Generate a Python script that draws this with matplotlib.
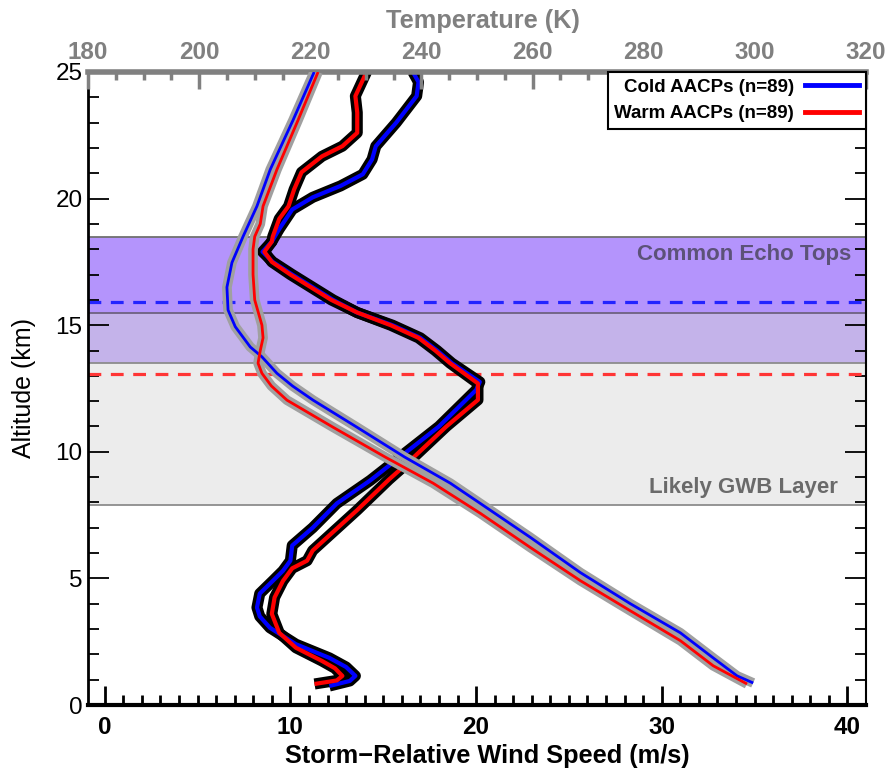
import matplotlib
matplotlib.use("Agg")
import matplotlib.pyplot as plt
from matplotlib.lines import Line2D
import numpy as np

plt.rcParams['font.family'] = ['Liberation Sans', 'DejaVu Sans']

# ---------------- data ----------------
# Storm-relative wind speed (m/s) vs altitude (km)
cold_wind_alt = [0.75, 0.95, 1.15, 1.5, 1.86, 2.4, 3.05, 3.5, 3.85, 4.4, 4.9, 5.3, 5.7, 6.3, 7.0, 7.96, 8.87,
                 9.79, 11.0, 12.44, 12.76, 13.5, 14.0, 14.5, 15.0, 15.5, 16.0, 16.5, 17.0,
                 17.5, 17.9, 18.3, 18.8, 19.57, 20.05, 20.5, 20.96, 21.55, 22.07, 23.0,
                 24.05, 24.6, 25.0]
cold_wind = [12.1, 13.2, 13.5, 13.0, 12.1, 10.3, 8.9, 8.35, 8.2, 8.35, 9.05, 9.6, 10.0, 10.1, 11.2, 12.5, 14.3,
             15.9, 18.0, 20.0, 20.2, 18.7, 17.9, 17.0, 15.5, 13.6, 12.3, 11.2, 10.1,
             9.05, 8.5, 9.0, 9.4, 10.1, 11.2, 12.7, 13.9, 14.4, 14.6, 15.7,
             16.8, 16.9, 16.6]

warm_wind_alt = [0.83, 0.97, 1.15, 1.45, 1.74, 2.26, 2.85, 3.6, 4.25, 4.9, 5.4, 5.7, 6.1, 7.7, 8.9,
                 9.55, 11.0, 12.05, 12.7, 13.5, 14.0, 14.5, 15.0, 15.5, 16.0, 16.5, 17.0,
                 17.5, 17.9, 18.3, 18.5, 19.2, 19.7, 20.36, 21.04, 21.67, 22.07, 22.6,
                 23.4, 24.05, 25.0]
warm_wind = [11.3, 12.5, 12.8, 12.4, 11.7, 10.3, 9.4, 9.0, 9.15, 9.6, 10.1, 10.9, 11.2, 13.6, 15.3,
             16.3, 18.4, 20.1, 20.1, 18.6, 17.8, 16.9, 15.4, 13.6, 12.2, 11.1, 10.0,
             9.0, 8.6, 9.0, 9.05, 9.4, 9.9, 10.2, 10.6, 11.7, 12.8, 13.6,
             13.6, 13.5, 14.1]

# Temperature (K) vs altitude (km)
cold_temp_alt = [0.87, 1.15, 1.86, 2.85, 4.0, 5.23, 6.62, 7.96, 8.76, 9.79, 10.97, 12.04,
                 12.6, 13.1, 13.75, 14.14, 14.94, 15.6, 16.5, 17.47, 18.5, 19.7, 21.15, 23.1, 25.0]
cold_temp = [299.7, 296.8, 292.5, 286.6, 277.6, 268.6, 259.6, 250.6, 245.2, 237.0, 228.4, 220.5,
             216.8, 214.0, 211.3, 209.2, 206.5, 205.2, 205.0, 205.9, 207.9, 210.4, 212.8, 216.9, 220.7]

warm_temp_alt = [0.83, 1.55, 2.54, 3.72, 4.91, 6.22, 7.57, 8.76, 9.79, 10.97, 12.04, 12.6, 13.1,
                 13.5, 14.0, 14.5, 15.0, 16.0, 17.0, 18.0, 18.5, 19.0, 19.7, 21.15, 23.1, 25.0]
warm_temp = [298.6, 292.5, 286.6, 277.6, 268.6, 259.6, 250.6, 242.1, 233.5, 224.1, 215.8, 213.0, 211.3,
             210.6, 211.0, 211.5, 211.3, 210.0, 209.7, 209.7, 210.0, 211.0, 211.5, 214.0, 217.8, 221.4]

# reference heights (km)
echo_tops = (13.5, 18.5)
gwb_layer = (7.9, 15.5)
cold_level = 15.93
warm_level = 13.07

legend_labels = ["Cold AACPs (n=89)", "Warm AACPs (n=89)"]

# ---------------- figure ----------------
fig = plt.figure(figsize=(8.91, 7.68), dpi=100)
ax = fig.add_axes([88/891, 1-705/768, (866-88)/891, (705-72)/768])

ax.set_xlim(-0.9, 41.0)
ax.set_ylim(0, 25)

# bands
ax.axhspan(gwb_layer[0], echo_tops[0], facecolor='#ececec', edgecolor='none', zorder=0)
ax.axhspan(echo_tops[0], gwb_layer[1], facecolor='#c4b3ea', edgecolor='none', zorder=0)
ax.axhspan(gwb_layer[1], echo_tops[1], facecolor='#b494fc', edgecolor='none', zorder=0)
for h, c in [(gwb_layer[0], '#8c8c8c'), (echo_tops[0], '#8c8c8c'),
             (gwb_layer[1], '#6e6280'), (echo_tops[1], '#707070')]:
    ax.axhline(h, color=c, lw=1.3, zorder=1)

ax.axhline(cold_level, color='#2323ff', lw=2.3, ls=(0, (4, 3)), zorder=2)
ax.axhline(warm_level, color='#ff3535', lw=2.3, ls=(0, (4, 3)), zorder=2)

ax.text(40.2, 17.8, "Common Echo Tops", ha='right', va='center', fontsize=16,
        fontweight='bold', color='#5c5278', zorder=3)
ax.text(39.5, 8.6, "Likely GWB Layer", ha='right', va='center', fontsize=16,
        fontweight='bold', color='#6a6a6a', zorder=3)

# wind lines
for x, y in [(cold_wind, cold_wind_alt), (warm_wind, warm_wind_alt)]:
    ax.plot(x, y, color='black', lw=8, solid_capstyle='butt', solid_joinstyle='round', zorder=4)
for x, y, c in [(cold_wind, cold_wind_alt, '#0000ff'), (warm_wind, warm_wind_alt, '#ff0000')]:
    ax.plot(x, y, color=c, lw=3, solid_capstyle='butt', solid_joinstyle='round', zorder=5)

# temperature axis
tax = ax.twiny()
tax.set_xlim(180, 320)
tax.set_ylim(0, 25)
for x, y in [(cold_temp, cold_temp_alt), (warm_temp, warm_temp_alt)]:
    tax.plot(x, y, color='#a0a0a0', lw=7, solid_capstyle='butt', solid_joinstyle='round', zorder=6)
for x, y, c in [(cold_temp, cold_temp_alt, '#0000ff'), (warm_temp, warm_temp_alt, '#ff0000')]:
    tax.plot(x, y, color=c, lw=2, solid_capstyle='butt', solid_joinstyle='round', zorder=7)

# ---- ticks & spines ----
ax.set_xticks([0, 10, 20, 30, 40])
ax.set_xticks(np.arange(0, 41, 1), minor=True)
ax.set_yticks([0, 5, 10, 15, 20, 25])
ax.set_yticks(np.arange(0, 26, 1), minor=True)
ax.tick_params(axis='x', which='major', direction='in', length=14, width=2, top=False,
               labelsize=17.5, pad=8)
ax.tick_params(axis='x', which='minor', direction='in', length=7, width=2, top=False)
ax.tick_params(axis='y', which='major', direction='in', length=15, width=1.3, right=True,
               labelsize=17.5, pad=4)
ax.tick_params(axis='y', which='minor', direction='in', length=8, width=1.3, right=True)
for lab in ax.get_xticklabels():
    lab.set_fontweight('bold')

tax.set_xticks(np.arange(180, 321, 20))
tax.set_xticks(np.arange(180, 321, 5), minor=True)
tax.tick_params(axis='x', which='major', direction='in', length=12, width=2.5, color='#808080',
                labelcolor='#808080', labelsize=17.5, pad=6)
tax.tick_params(axis='x', which='minor', direction='in', length=6, width=2.5, color='#808080')
for lab in tax.get_xticklabels():
    lab.set_fontweight('bold')

ax.spines['bottom'].set_linewidth(3)
ax.spines['left'].set_linewidth(2)
ax.spines['right'].set_linewidth(1.5)
ax.spines['top'].set_visible(False)
for s in ['bottom', 'left', 'right']:
    tax.spines[s].set_visible(False)
tax.spines['top'].set_linewidth(4)
tax.spines['top'].set_color('#808080')

ax.set_xlabel("Storm\u2212Relative Wind Speed (m/s)", fontsize=18.3, fontweight='bold', labelpad=2)
ax.xaxis.set_label_coords((487 - 88) / (866 - 88), -0.062)
ax.set_ylabel("Altitude (km)", fontsize=18, labelpad=14)
tax.set_xlabel("Temperature (K)", fontsize=18.3, fontweight='bold', color='#808080', labelpad=9)
tax.xaxis.set_label_coords((483 - 88) / (866 - 88), 1.070)

# legend
handles = [Line2D([], [], color='#0000ff', lw=3.5), Line2D([], [], color='#ff0000', lw=3.5)]
leg = tax.legend(handles, legend_labels, loc='upper right', markerfirst=False,
                 fancybox=False, framealpha=1, edgecolor='black', borderaxespad=0,
                 prop={'family': 'Liberation Sans', 'weight': 'bold', 'size': 13.5},
                 handlelength=2.9, handletextpad=0.6, borderpad=0.35, labelspacing=0.5)
leg.get_frame().set_linewidth(1.5)
leg.set_zorder(20)

fig.savefig("out.png", dpi=100)
